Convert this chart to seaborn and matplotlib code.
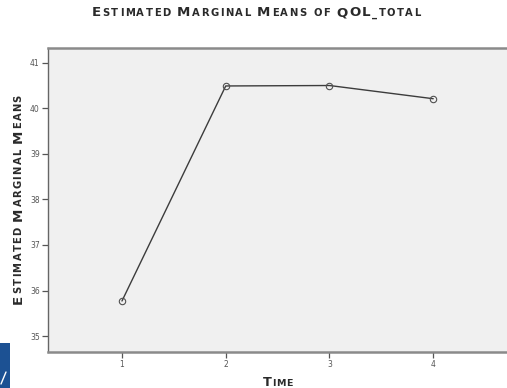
import matplotlib
matplotlib.use("Agg")
import matplotlib.pyplot as plt
import seaborn as sns
import pandas as pd
from matplotlib.patches import Rectangle
from matplotlib.lines import Line2D

time = [1, 2, 3, 4]
means = [35.77, 40.49, 40.50, 40.21]
yticks = [35, 36, 37, 38, 39, 40, 41]
title_text = "Estimated Marginal Means of QOL_total"
ylabel_text = "Estimated Marginal Means"
xlabel_text = "Time"

sns.set_theme(style="white")
plt.rcParams['font.family'] = ['DejaVu Sans']

W, H = 507, 388
fig = plt.figure(figsize=(W / 100, H / 100), dpi=100)
fig.patch.set_facecolor("white")
ax = fig.add_axes([48 / W, 1 - 352 / H, 462 / W, (352 - 47.7) / H])
ax.set_facecolor("#f0f0f0")

df = pd.DataFrame({"Time": time, "Mean": means})
sns.lineplot(data=df, x="Time", y="Mean", ax=ax, color="#3c3c3c", linewidth=1.0,
             marker="o", markersize=4.6, markerfacecolor="none",
             markeredgecolor="#505050", markeredgewidth=0.8)

ax.set_xlim(0.287, 4.74)
ax.set_ylim(34.65, 41.33)
ax.set_xticks(time)
ax.set_yticks(yticks)
ax.set_xticklabels([str(t) for t in time], fontsize=5.5, color="#555555")
ax.set_yticklabels([str(t) for t in yticks], fontsize=5.5, color="#555555")
ax.tick_params(axis="both", direction="out", length=4, width=0.9, color="#555555", pad=2,
               bottom=True, left=True)
ax.set_xlabel("")
ax.set_ylabel("")
for s in ["top", "bottom"]:
    ax.spines[s].set_color("#8a8a8a")
    ax.spines[s].set_linewidth(1.8)
ax.spines["left"].set_color("#666666")
ax.spines["left"].set_linewidth(1.0)
ax.spines["right"].set_visible(False)

renderer = fig.canvas.get_renderer()


def smallcaps(s, cx, cy, big, small, target, rotation=0, color="#222222", space=5.0):
    items = []
    for ch in s:
        if ch == " ":
            items.append((None, space))
            continue
        isbig = (ch.isupper() or ch.isdigit()) and ch != "_"
        size = big if isbig else small
        t = fig.text(0, 0, ch.upper(), fontsize=size, color=color, fontweight="bold",
                     rotation=rotation, ha="left", va="baseline",
                     rotation_mode="anchor", transform=None)
        bb = t.get_window_extent(renderer)
        items.append((t, bb.height if rotation == 90 else bb.width))
    glyph_total = sum(w for _, w in items)
    n_gaps = max(len(items) - 1, 1)
    track = (target - glyph_total) / n_gaps
    total = glyph_total + track * n_gaps
    pos = -total / 2
    for t, w in items:
        if t is not None:
            if rotation == 90:
                t.set_position((cx, cy + pos))
            else:
                t.set_position((cx + pos, cy))
        pos += w + track


# figure pixel coords with origin bottom-left
smallcaps(title_text, 256.5, H - 16.5, 9.6, 7.2, 329, color="#2a2a2a", space=3.5)
smallcaps(ylabel_text, 21.5, H - 199, 9.6, 7.2, 209, rotation=90, color="#2a2a2a", space=3.5)
smallcaps(xlabel_text, 278, H - 385.5, 9.2, 6.8, 30, color="#2a2a2a", space=4)

# blue corner artifact
fig.patches.append(Rectangle((0, 0), 9.5 / W, 45 / H, transform=fig.transFigure,
                             facecolor="#1c5193", edgecolor="none", zorder=5))
fig.lines.append(Line2D([1 / W, 6 / W], [4 / H, 16 / H], transform=fig.transFigure,
                        color="white", linewidth=1.0, zorder=6))

fig.savefig("out.png", dpi=100)
